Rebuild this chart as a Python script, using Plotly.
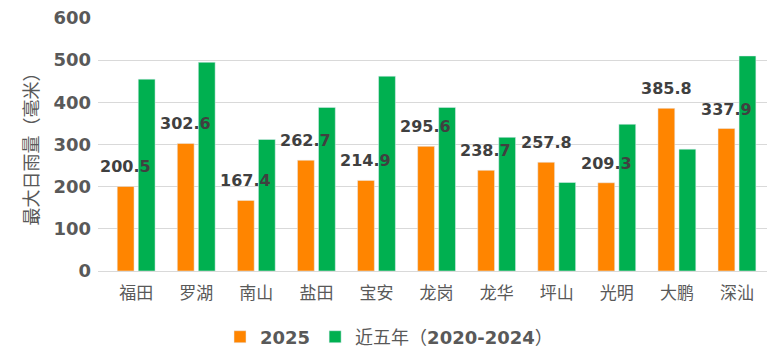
import plotly.graph_objects as go

districts = ["福田", "罗湖", "南山", "盐田", "宝安", "龙岗", "龙华", "坪山", "光明", "大鹏", "深汕"]
rain_2025 = [200.5, 302.6, 167.4, 262.7, 214.9, 295.6, 238.7, 257.8, 209.3, 385.8, 337.9]
rain_5yr = [455, 495, 312, 388, 462, 388, 317, 210, 348, 289, 510]
series_names = ["2025", "<span style='font-weight:normal'>近五年（</span>2020-2024<span style='font-weight:normal'>）</span>"]

FONT = "DejaVu Sans, Noto Sans CJK SC, sans-serif"

W, H = 783, 363
ML, MR, MT, MB = 98, 16, 18, 92
BARGAP = 0.3

fig = go.Figure()
fig.add_trace(go.Bar(
    x=districts, y=rain_2025, name=series_names[0],
    marker=dict(color="#FF8500"),
))
fig.add_trace(go.Bar(
    x=districts, y=rain_5yr, name=series_names[1],
    marker=dict(color="#00B050"),
))

# value labels above the orange bars
cat_w = (W - ML - MR) / len(districts)
slot_offset = cat_w * (1 - BARGAP) / 4
for d, v in zip(districts, rain_2025):
    fig.add_annotation(
        x=d, y=v, text=f"{v:.1f}", showarrow=False,
        xref="x", yref="y", yanchor="bottom", xanchor="center",
        xshift=-slot_offset, yshift=8,
        font=dict(family=FONT, size=16, color="#404040", weight="bold"),
    )

fig.update_layout(
    width=W, height=H,
    margin=dict(l=ML, r=MR, t=MT, b=MB, autoexpand=False),
    plot_bgcolor="white", paper_bgcolor="white",
    barmode="group", bargap=BARGAP, bargroupgap=0.2,
    font=dict(family=FONT, color="#595959"),
    showlegend=True,
    legend=dict(
        orientation="h", x=0.435, xanchor="center",
        y=-0.261, yanchor="middle",
        font=dict(family=FONT, size=18, color="#595959", weight="bold"),
        itemwidth=30, tracegroupgap=0,
    ),
    xaxis=dict(
        tickfont=dict(family=FONT, size=17, color="#595959"),
        showline=True, linecolor="#D9D9D9", linewidth=1,
        ticks="", ticklabelstandoff=7, automargin=False,
    ),
    yaxis=dict(
        range=[0, 600], dtick=100,
        tickfont=dict(family=FONT, size=18, color="#595959", weight="bold"),
        gridcolor="#D9D9D9", gridwidth=1,
        zeroline=False, automargin=False,
        title=dict(text="最大日雨量（毫米）", font=dict(family=FONT, size=18, color="#595959"), standoff=10),
        ticks="", ticklen=0, ticklabelstandoff=6,
    ),
)
fig.write_html("out.html", config={"displayModeBar": False},
               post_script="document.body.style.margin='0';")
